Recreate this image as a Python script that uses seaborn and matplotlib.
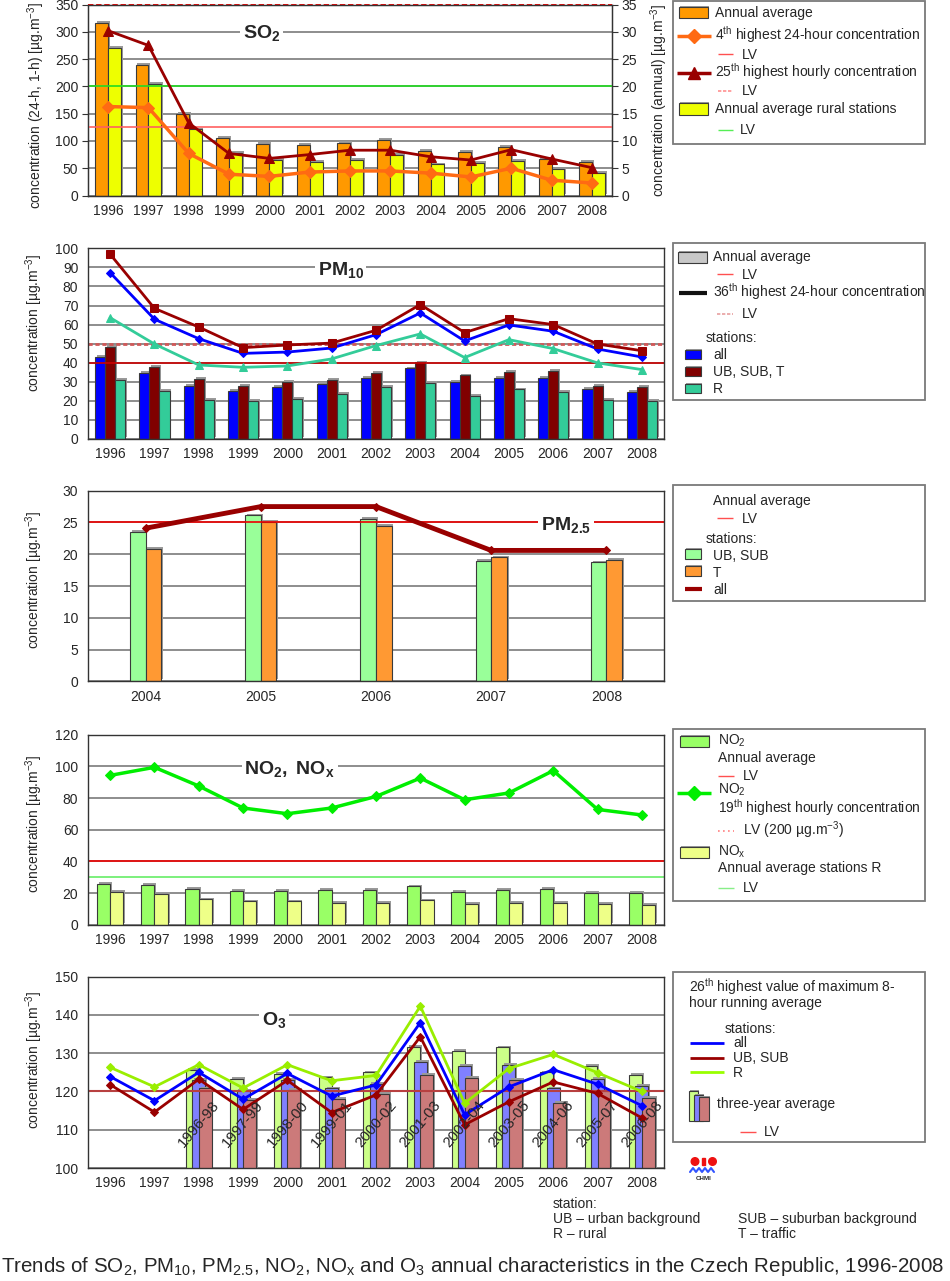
import matplotlib
matplotlib.use('Agg')
import numpy as np
import pandas as pd
import matplotlib.pyplot as plt
import matplotlib.patheffects as pe
from matplotlib.patches import Rectangle, Circle
import seaborn as sns

sns.set_style('white')
plt.rcParams['font.family'] = ['Liberation Sans', 'DejaVu Sans']
plt.rcParams['mathtext.fontset'] = 'custom'
plt.rcParams['mathtext.rm'] = 'Liberation Sans'
plt.rcParams['mathtext.it'] = 'Liberation Sans:italic'
plt.rcParams['mathtext.bf'] = 'Liberation Sans:bold'

# ---------------- data ----------------
years = [1996, 1997, 1998, 1999, 2000, 2001, 2002, 2003, 2004, 2005, 2006, 2007, 2008]

# SO2
so2_annual = [31.6, 24.0, 15.0, 10.6, 9.5, 9.3, 9.7, 10.2, 8.1, 8.0, 8.9, 6.7, 6.1]
so2_rural = [27.1, 20.4, 12.1, 7.8, 6.5, 6.1, 6.5, 7.5, 5.7, 5.9, 6.3, 4.8, 4.2]
so2_4th_24h = [163, 161, 77, 39, 35, 43, 45, 45, 41, 34, 50, 28, 23]
so2_25th_1h = [302, 275, 133, 77, 68, 75, 83, 83, 71, 65, 84, 67, 51]

# PM10
pm10_all = [43.2, 34.6, 28.0, 25.3, 27.4, 28.7, 32.2, 37.0, 30.0, 32.2, 32.2, 26.2, 24.8]
pm10_ubsubt = [48.4, 38.0, 31.5, 28.0, 30.0, 31.0, 34.6, 40.2, 33.4, 35.3, 35.8, 28.0, 27.3]
pm10_r = [31.0, 25.3, 20.6, 19.9, 21.0, 23.6, 27.3, 29.5, 22.4, 26.0, 24.7, 20.6, 20.1]
pm10_36_all = [87.2, 62.8, 52.6, 44.9, 45.6, 47.7, 54.7, 66.1, 51.4, 59.8, 56.5, 47.2, 43.0]
pm10_36_ubsubt = [96.9, 68.5, 58.7, 47.9, 49.3, 50.3, 57.0, 70.5, 55.8, 63.1, 60.0, 49.8, 46.3]
pm10_36_r = [63.6, 49.8, 38.8, 37.6, 38.3, 42.0, 49.0, 55.1, 42.7, 52.1, 47.4, 39.9, 36.4]

# PM2.5
pm25_years = [2004, 2005, 2006, 2007, 2008]
pm25_ubsub = [23.5, 26.1, 25.6, 18.9, 18.7]
pm25_t = [20.9, 25.1, 24.5, 19.5, 19.1]
pm25_all = [24.1, 27.5, 27.5, 20.6, 20.6]

# NO2 / NOx
no2_annual = [25.9, 25.3, 22.7, 21.5, 21.5, 22.1, 22.1, 24.2, 20.6, 22.1, 22.7, 20.0, 20.0]
nox_rural = [20.6, 19.2, 16.0, 14.7, 14.7, 13.9, 13.9, 15.4, 13.3, 13.9, 13.9, 13.3, 12.6]
no2_19th_1h = [94.3, 99.4, 87.6, 73.7, 70.1, 73.7, 81.0, 92.6, 78.9, 83.2, 97.3, 72.8, 69.3]

# O3
o3_all = [123.9, 117.6, 125.0, 118.0, 124.7, 118.8, 121.7, 138.0, 113.9, 121.2, 125.7, 121.9, 116.3]
o3_ubsub = [121.8, 114.6, 123.2, 115.3, 122.9, 114.5, 119.1, 134.3, 111.3, 117.3, 122.5, 119.5, 113.1]
o3_r = [126.3, 121.2, 127.0, 120.9, 127.0, 122.8, 124.2, 142.3, 116.9, 126.0, 129.7, 124.9, 120.0]
o3_3y_years = [1998, 1999, 2000, 2001, 2002, 2003, 2004, 2005, 2006, 2007, 2008]
o3_3y_labels = ['1996-98', '1997-99', '1998-00', '1999-01', '2000-02', '2001-03',
                '2002-04', '2003-05', '2004-06', '2005-07', '2006-08']
o3_3y_r = [125.6, 123.2, 124.6, 123.7, 125.0, 131.6, 130.6, 131.5, 125.0, 126.7, 124.3]
o3_3y_all = [123.0, 120.1, 123.0, 120.8, 121.9, 127.7, 126.6, 127.0, 120.8, 123.2, 121.4]
o3_3y_ubsub = [120.8, 117.7, 120.4, 118.1, 119.3, 124.3, 123.5, 123.1, 117.1, 120.0, 118.3]

# ---------------- helpers ----------------
W, H = 950, 1281
fig = plt.figure(figsize=(W / 100, H / 100), dpi=100)

def rect(l, t, r, b):
    return [l / W, 1 - b / H, (r - l) / W, (b - t) / H]

EDGE = '#3a3a3a'
GRID = '#858585'
FS = 10

def draw_bars(ax, x, series, colors, width):
    rows = []
    for name, vals in series.items():
        for xi, v in zip(x, vals):
            rows.append((xi, name, v))
    df = pd.DataFrame(rows, columns=['year', 'series', 'value'])
    sns.barplot(data=df, x='year', y='value', hue='series', hue_order=list(series),
                palette=colors, native_scale=True, width=width, gap=0, dodge=True,
                edgecolor=EDGE, linewidth=0.8, errorbar=None, saturation=1,
                legend=False, ax=ax)

def shadows(ax):
    for p in ax.patches:
        p.set_path_effects([pe.SimplePatchShadow(offset=(1.3, 1.3), shadow_rgbFace='#9a9a9a', alpha=1.0),
                            pe.Normal()])

def draw_line(ax, x, y, color, marker, ms, lw=2.0):
    sns.lineplot(x=x, y=y, ax=ax, color=color, marker=marker, markersize=ms,
                 markeredgecolor=color, linewidth=lw, zorder=4, legend=False)

def style(ax, x_major, ylim, yticks, grid=True):
    ax.set_xlim(x_major[0] - 0.5, x_major[-1] + 0.5)
    ax.set_ylim(*ylim)
    ax.set_yticks(yticks)
    ax.set_yticklabels([str(v) for v in yticks])
    ax.set_xticks(x_major)
    ax.set_xticklabels([str(v) for v in x_major])
    ax.set_xticks(np.arange(x_major[0] - 0.5, x_major[-1] + 0.6, 1.0), minor=True)
    ax.tick_params(axis='x', which='major', length=0, pad=6, labelsize=FS)
    ax.tick_params(axis='x', which='minor', length=5, width=0.8, color='#333333', direction='out')
    ax.tick_params(axis='y', length=4, width=0.8, color='#333333', direction='out', labelsize=FS, pad=3)
    ax.xaxis.grid(False)
    ax.yaxis.grid(grid, color=GRID, lw=1.3)
    ax.set_axisbelow(True)
    for s in ax.spines.values():
        s.set_color('#333333')
        s.set_linewidth(1.0)
    ax.set_xlabel('')
    ax.set_ylabel('')

def title(ax, x, y, s):
    ax.text(x, y, s, fontsize=14, fontweight='bold', ha='center', va='center', zorder=6,
            bbox=dict(facecolor='white', edgecolor='none', pad=2))

YLAB = r'concentration [µg.m$^{-3}$]'

# ---------------- SO2 ----------------
ax2 = fig.add_axes(rect(88, 4.5, 612, 195.5))
ax = ax2.twinx()
draw_bars(ax2, years, {'Annual average': so2_annual, 'Annual average rural stations': so2_rural},
          ['#FF9900', '#EEFF00'], 0.64)
shadows(ax2)
style(ax2, years, (0, 35), list(range(0, 36, 5)))
ax2.yaxis.tick_right()
ax2.yaxis.set_label_position('right')
ax2.set_ylabel('concentration (annual) [µg.m$^{-3}$]', fontsize=FS, labelpad=8)
ax.set_ylim(0, 350)
ax.set_yticks(range(0, 351, 50))
ax.yaxis.tick_left()
ax.yaxis.set_label_position('left')
ax.tick_params(axis='y', length=4, width=0.8, color='#333333', direction='out', labelsize=FS, pad=3)
ax.set_ylabel('concentration (24-h, 1-h) [µg.m$^{-3}$]', fontsize=FS)
ax.yaxis.set_label_coords(-0.078, 0.47)
ax.set_zorder(ax2.get_zorder() + 1)
ax.patch.set_visible(False)
for s in ax.spines.values():
    s.set_color('#333333')
ax.axhline(125, color='#FF6060', lw=1.2, zorder=2)
ax.axhline(200, color='#22DD22', lw=1.2, zorder=2)
ax.axhline(350, color='#CC0000', lw=1.3, ls=(0, (3, 1.5)), zorder=2, clip_on=False)
draw_line(ax, years, so2_4th_24h, '#FF6A13', 'D', 6.5, lw=2.5)
draw_line(ax, years, so2_25th_1h, '#990000', '^', 7.5, lw=2.0)
ax.set_xlim(1995.5, 2008.5)
title(ax, 1999.8, 297, r'$\mathbf{SO_2}$')

# ---------------- PM10 ----------------
axp = fig.add_axes(rect(88, 248.3, 664, 439))
draw_bars(axp, years, {'all': pm10_all, 'UB, SUB, T': pm10_ubsubt, 'R': pm10_r},
          ['#0000FF', '#800000', '#33CC99'], 0.68)
shadows(axp)
style(axp, years, (0, 100), list(range(0, 101, 10)))
axp.set_ylabel(YLAB, fontsize=FS)
axp.yaxis.set_label_coords(-0.075, 0.61)
axp.axhline(40, color='#CC0000', lw=1.2, zorder=2)
axp.axhline(50, color='#D05858', lw=2.0, ls=(0, (1.5, 1)), zorder=2)
draw_line(axp, years, pm10_36_r, '#33CC99', '^', 6)
draw_line(axp, years, pm10_36_all, '#0000FF', 'D', 4.5)
draw_line(axp, years, pm10_36_ubsubt, '#990000', 's', 6)
title(axp, 2001.2, 88.5, r'$\mathbf{PM_{10}}$')

# ---------------- PM2.5 ----------------
axq = fig.add_axes(rect(88, 490.7, 664, 681.3))
draw_bars(axq, pm25_years, {'UB, SUB': pm25_ubsub, 'T': pm25_t},
          ['#99FF99', '#FF9933'], 0.27)
shadows(axq)
style(axq, pm25_years, (0, 30), list(range(0, 31, 5)))
axq.set_ylabel(YLAB, fontsize=FS)
axq.yaxis.set_label_coords(-0.075, 0.535)
axq.axhline(25, color='#EE0000', lw=1.2, zorder=2)
draw_line(axq, pm25_years, pm25_all, '#990000', 'D', 4.5, lw=3.5)
title(axq, 2007.65, 24.6, r'$\mathbf{PM_{2.5}}$')

# ---------------- NO2 ----------------
axn = fig.add_axes(rect(88, 734.7, 664, 924.7))
draw_bars(axn, years, {'NO2': no2_annual, 'NOx': nox_rural},
          ['#99FF66', '#EEFF88'], 0.6)
shadows(axn)
style(axn, years, (0, 120), list(range(0, 121, 20)))
axn.set_ylabel(YLAB, fontsize=FS)
axn.yaxis.set_label_coords(-0.075, 0.53)
axn.axhline(40, color='#EE0000', lw=1.2, zorder=2)
axn.axhline(30, color='#66EE66', lw=1.2, zorder=2)
draw_line(axn, years, no2_19th_1h, '#00EE00', 'D', 5, lw=2.5)
title(axn, 2000.05, 98.5, r'$\mathbf{NO_2,\ NO_x}$')

# ---------------- O3 ----------------
axo = fig.add_axes(rect(88, 976.7, 664, 1168))
off = 0.146
draw_bars(axo, [y - off for y in o3_3y_years], {'R': o3_3y_r}, ['#CCFF88'], 0.29)
draw_bars(axo, o3_3y_years, {'all': o3_3y_all}, ['#8080FF'], 0.29)
draw_bars(axo, [y + off for y in o3_3y_years], {'UB, SUB': o3_3y_ubsub}, ['#CC7A7A'], 0.29)
shadows(axo)
style(axo, years, (100, 150), list(range(100, 151, 10)))
axo.set_ylabel(YLAB, fontsize=FS)
axo.yaxis.set_label_coords(-0.075, 0.565)
axo.axhline(120, color='#B84040', lw=1.5, zorder=2)
draw_line(axo, years, o3_r, '#99EE00', 'D', 4.5)
draw_line(axo, years, o3_all, '#0000FF', 'D', 4.5)
draw_line(axo, years, o3_ubsub, '#990000', 'D', 4.5)
for yv, lab in zip(o3_3y_years, o3_3y_labels):
    axo.text(yv, 111.4, lab, rotation=50, ha='center', va='center', fontsize=11, zorder=6)
title(axo, 1999.7, 138.6, r'$\mathbf{O_3}$')

# ---------------- overlay: legends & texts ----------------
ov = fig.add_axes([0, 0, 1, 1])
ov.set_xlim(0, W)
ov.set_ylim(H, 0)
ov.axis('off')
ov.set_zorder(20)

def box(x0, y0, x1, y1):
    ov.add_patch(Rectangle((x0, y0), x1 - x0, y1 - y0, fill=False, ec='#7a7a7a', lw=1.3))

def txt(x, y, s, fs=FS, **kw):
    ov.text(x, y, s, fontsize=fs, va='center', ha='left', **kw)

def patch(x0, y0, x1, y1, color):
    r = Rectangle((x0, y0), x1 - x0, y1 - y0, fc=color, ec=EDGE, lw=0.8)
    r.set_path_effects([pe.SimplePatchShadow(offset=(1.0, 1.0), shadow_rgbFace='#9a9a9a', alpha=1.0), pe.Normal()])
    ov.add_patch(r)

def hline(x0, x1, y, color, lw=1.0, ls='-', marker=None, ms=6):
    ov.plot([x0, x1], [y, y], color=color, lw=lw, ls=ls, solid_capstyle='butt')
    if marker:
        ov.plot([(x0 + x1) / 2], [y], marker=marker, ms=ms, color=color, mec=color)

LVRED = '#FF5050'

# SO2 legend
box(673, 0.7, 925, 144)
patch(679, 7, 708, 18, '#FF9900'); txt(715, 12.5, 'Annual average')
hline(677, 711, 36, '#FF6A13', lw=2.5, marker='D', ms=7); txt(715, 35, r'4$^{\mathrm{th}}$ highest 24-hour concentration')
hline(718, 733, 54, LVRED); txt(742, 55, 'LV')
hline(677, 711, 73, '#990000', lw=2.5, marker='^', ms=8); txt(715, 72, r'25$^{\mathrm{th}}$ highest hourly concentration')
hline(718, 733, 91, '#FF9090', lw=1.2, ls=(0, (2, 1))); txt(742, 91, 'LV')
patch(679, 103, 708, 115, '#EEFF00'); txt(715, 109.5, 'Annual average rural stations')
hline(718, 733, 130, '#55EE55'); txt(740, 130, 'LV')

# PM10 legend
box(673, 243, 925, 400)
patch(678, 252, 707, 263, '#C8C8C8'); txt(713, 257.5, 'Annual average')
hline(717, 733, 274, LVRED); txt(742, 275, 'LV')
hline(679, 707, 293, '#111111', lw=3); txt(713, 292, r'36$^{\mathrm{th}}$ highest 24-hour concentration')
hline(717, 733, 314, '#E8A0A0', lw=1.2, ls=(0, (2, 1))); txt(742, 314, 'LV')
txt(706, 338, 'stations:')
patch(685, 350, 701, 359, '#0000FF'); txt(713, 355, 'all')
patch(685, 367, 701, 376, '#800000'); txt(713, 372, 'UB, SUB, T')
patch(685, 384, 701, 393, '#33CC99'); txt(713, 389, 'R')

# PM2.5 legend
box(673, 485.3, 925, 600.7)
txt(713, 501, 'Annual average')
hline(717, 733, 518, LVRED); txt(742, 519, 'LV')
txt(706, 539, 'stations:')
patch(685, 549, 701, 559, '#99FF99'); txt(713, 556, 'UB, SUB')
patch(685, 566, 701, 576, '#FF9933'); txt(713, 573, 'T')
hline(685, 702, 589, '#990000', lw=3); txt(713, 590, 'all')

# NO2 legend
box(673, 729, 925, 901)
patch(680, 736, 709, 747, '#99FF66'); txt(718, 741, r'NO$_2$'); txt(718, 758, 'Annual average')
hline(718, 734, 776, LVRED); txt(743, 776.5, 'LV')
hline(677, 711, 793, '#00EE00', lw=2.5, marker='D', ms=7); txt(718, 789.5, r'NO$_2$'); txt(718, 807.5, r'19$^{\mathrm{th}}$ highest hourly concentration')
hline(718, 734, 831, '#FF8080', lw=1.2, ls=(0, (1, 2))); txt(743, 830, r'LV (200 µg.m$^{-3}$)')
patch(680, 847, 709, 858, '#EEFF88'); txt(718, 851.5, r'NO$_\mathrm{x}$'); txt(718, 868, 'Annual average stations R')
hline(718, 734, 888, '#88EE88'); txt(743, 888.5, 'LV')

# O3 legend
box(673, 972, 925, 1142)
txt(689, 987, r'26$^{\mathrm{th}}$ highest value of maximum 8-'); txt(689, 1003.5, 'hour running average')
txt(725, 1029, 'stations:')
hline(690, 724, 1043, '#0000FF', lw=2); txt(733, 1043, 'all')
hline(690, 724, 1058, '#990000', lw=2); txt(733, 1058, 'UB, SUB')
hline(690, 724, 1072, '#99FF00', lw=2); txt(733, 1073, 'R')
patch(689, 1091, 698, 1121, '#CCFF88'); patch(694, 1095, 703, 1121, '#8080FF'); patch(699, 1097, 709, 1121, '#CC7A7A')
txt(717, 1104, 'three-year average')
hline(740, 756, 1132, LVRED); txt(764, 1132, 'LV')

# CHMI logo
ov.add_patch(Circle((695, 1161.5), 3.8, color='#EE1111'))
ov.add_patch(Circle((712.5, 1161.5), 3.8, color='#EE1111'))
ov.add_patch(Rectangle((702, 1158), 3, 7, color='#EE1111'))
ov.plot([690, 693, 696, 699, 702, 705, 708, 711, 714], [1172, 1168, 1172, 1168, 1172, 1168, 1172, 1168, 1172],
        color='#3355FF', lw=1.5)
ov.text(703.5, 1179, 'CHMI', fontsize=4.5, fontweight='bold', ha='center', va='center')

# station notes
txt(553, 1204, 'station:')
txt(553, 1219, 'UB – urban background')
txt(553, 1234, 'R – rural')
txt(738, 1219, 'SUB – suburban background')
txt(738, 1234, 'T – traffic')

# caption
ov.text(1, 1266, r'Trends of SO$_2$, PM$_{10}$, PM$_{2.5}$, NO$_2$, NO$_\mathrm{x}$ and O$_3$ annual characteristics in the Czech Republic, 1996-2008',
        fontsize=14.8, va='center', ha='left')

fig.savefig('out.png', dpi=100)
